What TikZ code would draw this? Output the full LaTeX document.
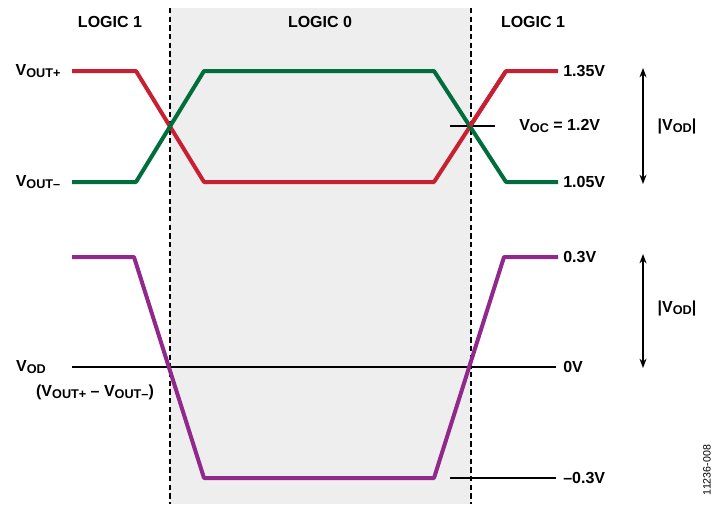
\documentclass[tikz,border=0pt]{standalone}
\usepackage{fontspec}
\setmainfont{Liberation Sans}
\usetikzlibrary{arrows.meta}
\definecolor{tred}{RGB}{200,32,50}
\definecolor{tgreen}{RGB}{0,110,60}
\definecolor{tpurple}{RGB}{145,40,140}
\definecolor{bgshade}{RGB}{238,238,238}
\newcommand{\mysub}[1]{\raisebox{-0.25ex}{\fontsize{9.5}{10}\selectfont #1}}
\tikzset{lbl/.style={font=\bfseries\fontsize{12}{14}\selectfont, inner sep=0pt},
 trace/.style={line width=3pt, line join=round},
 thin/.style={line width=0.8pt},
 dim/.style={line width=1pt, {Stealth[length=7pt]}-{Stealth[length=7pt]}}}
\begin{document}
\begin{tikzpicture}[x=0.75pt,y=-0.75pt]
\useasboundingbox (0,0) rectangle (723,514);
\fill[bgshade] (170,8) rectangle (471,504);
\draw[thin,dash pattern=on 4pt off 2.5pt] (170,8) -- (170,504);
\draw[thin,dash pattern=on 4pt off 2.5pt] (471,8) -- (471,504);
\node[lbl] (l1) at (110,22) {LOGIC 1};
\node[lbl] (l0) at (320,22) {LOGIC 0};
\node[lbl] (l2) at (533,22) {LOGIC 1};
\draw[thin] (450,126) -- (495,126);
\draw[trace,tred] (72,71) -- (136,71) -- (204,182) -- (434,182) -- (506,71) -- (558,71);
\draw[trace,tgreen] (72,182) -- (136,182) -- (204,71) -- (434,71) -- (506,182) -- (558,182);
\draw[trace,tred] (470,126) -- (506,71);
\draw[thin] (72,367) -- (556,367);
\draw[thin] (450,478) -- (556,478);
\draw[trace,tpurple] (72,257) -- (134,257) -- (204,478) -- (434,478) -- (504,257) -- (558,257);
\node[lbl] (vp) at (38,71) {V\mysub{OUT+}};
\node[lbl] (vm) at (38,182) {V\mysub{OUT–}};
\node[lbl,anchor=west] (a) at (563,71) {1.35V};
\node[lbl,anchor=west] (b) at (519,126) {V\mysub{OC} = 1.2V};
\node[lbl,anchor=west] (c) at (563,182) {1.05V};
\node[lbl,anchor=west] (d) at (563,257) {0.3V};
\node[lbl,anchor=west] (e) at (563,367) {0V};
\node[lbl,anchor=west] (f) at (563,478) {–0.3V};
\coordinate (t1) at (643,68); \coordinate (b1) at (643,184);
\coordinate (t2) at (643,254); \coordinate (b2) at (643,368);
\draw[dim] (t1) -- (b1);
\draw[dim] (t2) -- (b2);
\node[lbl] (o1) at (677,126) {|V\mysub{OD}|};
\node[lbl] (o2) at (677,308) {|V\mysub{OD}|};
\node[lbl] (vod) at (31,367) {V\mysub{OD}};
\node[lbl] (vd) at (95,392) {(V\mysub{OUT+} – V\mysub{OUT–})};
\node[font=\fontsize{8}{9}\selectfont, rotate=90] (id) at (707,470) {11236-008};
\end{tikzpicture}
\end{document}
